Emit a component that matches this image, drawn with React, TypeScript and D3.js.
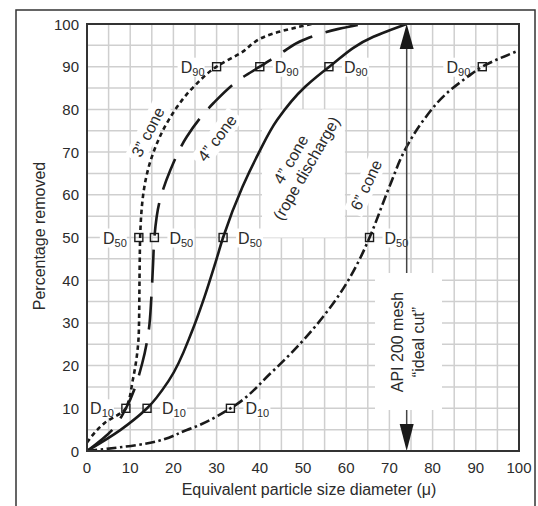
import React from 'react';
import * as d3 from 'd3';

// axis ticks
const xTicks = [0, 10, 20, 30, 40, 50, 60, 70, 80, 90, 100];
const yTicks = [0, 10, 20, 30, 40, 50, 60, 70, 80, 90, 100];

// 3" cone (dotted)
const cone3X = [0, 4, 9, 10.6, 12, 12.2, 12.3, 13.3, 15.4, 18.9, 24.7, 30, 35.4, 43.2, 52];
const cone3Y = [2, 6.5, 10, 16.6, 28, 44, 50, 62, 70, 77.5, 85.3, 90, 93.1, 97.8, 100];

// 4" cone (long dash)
const cone4X = [0, 5.8, 9, 12.8, 14.3, 14.9, 15.3, 15.6, 16.7, 19.3, 23.1, 29.3, 36.3, 40, 44.8, 50.2, 58, 64];
const cone4Y = [0, 4.9, 10, 20.6, 28.3, 36, 44, 50, 58, 65.8, 73.6, 81.5, 87.7, 90, 93.1, 96.3, 98.8, 100];

// 4" cone, rope discharge (solid)
const ropeX = [0, 7.7, 13.9, 19, 24.4, 27.2, 29.7, 31.5, 36, 39.7, 44, 50.5, 56.1, 66.3, 74];
const ropeY = [0, 4.9, 10, 16.6, 28.3, 36.1, 44, 50, 61.9, 69.7, 77.5, 85.3, 90, 97, 100];

// 6" cone (dash-dot)
const cone6X = [0, 11.6, 23.1, 33.2, 42.5, 49.4, 54.7, 59.6, 63.4, 65.4, 70, 73.6, 77.9, 83.3, 88.2, 91.5, 100];
const cone6Y = [0, 1.4, 4.9, 10, 18.2, 25.2, 31.5, 38.5, 45.5, 50, 61.9, 70.5, 77.5, 83.8, 87.7, 90, 93.8];

// D-point markers
const markerNames = ['90', '90', '90', '90', '50', '50', '50', '50', '10', '10', '10'];
const markerX = [30, 40, 56, 91.5, 12, 15.6, 31.5, 65.4, 9, 13.9, 33.2];
const markerY = [90, 90, 90, 90, 50, 50, 50, 50, 10, 10, 10];
const markerSide = ['left', 'right', 'right', 'left', 'left', 'right', 'right', 'right', 'left', 'right', 'right'];

const apiCut = 74;

const W = 538;
const H = 506;
const left = 87, right = 519, top = 24, bottom = 451;
const FONT = "'Liberation Sans', Arial, sans-serif";
const INK = '#1a1a1a';
const TXT = '#2b2b2b';

const x = d3.scaleLinear().domain([0, 100]).range([left, right]);
const y = d3.scaleLinear().domain([0, 100]).range([bottom, top]);

const line = d3.line<[number, number]>()
  .x(d => x(d[0]))
  .y(d => y(d[1]))
  .curve(d3.curveMonotoneY);

const zip = (xs: number[], ys: number[]) => xs.map((v, i) => [v, ys[i]] as [number, number]);

const series = [
  { pts: zip(cone3X, cone3Y), dash: '4.5,3.5' },
  { pts: zip(cone4X, cone4Y), dash: '33,14' },
  { pts: zip(ropeX, ropeY), dash: null },
  { pts: zip(cone6X, cone6Y), dash: '10,3.5,2.5,3.5' },
];

const RotLabel = ({ cx, cy, angle, w }: any) => (
  <g transform={`translate(${cx},${cy}) rotate(${angle})`}>
    <rect x={-w / 2 - 4} y={-10} width={w + 8} height={20} fill="#fff" />
  </g>
);

const RotText = ({ cx, cy, angle, text }: any) => (
  <g transform={`translate(${cx},${cy}) rotate(${angle})`}>
    <text textAnchor="middle" dy="0.35em" fontSize={16} fill={TXT}>{text}</text>
  </g>
);

export default function App() {
  const grid = d3.range(0, 101, 5);
  const ax = x(apiCut);

  const coneLabels = [
    { cx: x(14.1), cy: y(74.7), angle: -63, text: '3\u201D cone', w: 54 },
    { cx: x(30.1), cy: y(73.3), angle: -53, text: '4\u201D cone', w: 54 },
    { cx: x(64.6), cy: y(62.3), angle: -65, text: '6\u201D cone', w: 54 },
  ];

  const rope = { cx: x(48.9), cy: y(67.3), angle: -60 };

  return (
    <svg width={W} height={H} style={{ position: 'absolute', left: 0, top: 0, fontFamily: FONT }}>
      <rect x={0} y={0} width={W} height={H} fill="#fff" />
      {/* outer frame */}
      <rect x={16} y={10} width={519} height={520} fill="none" stroke="#333" strokeWidth={1.5} />

      {/* grid */}
      {grid.map(g => (
        <g key={'g' + g}>
          <line x1={x(g)} x2={x(g)} y1={top} y2={bottom} stroke="#cfcfcf" strokeWidth={1.5} />
          <line x1={left} x2={right} y1={y(g)} y2={y(g)} stroke="#cfcfcf" strokeWidth={1.5} />
        </g>
      ))}

      {/* white backgrounds */}
      {coneLabels.map((l, i) => <RotLabel key={'rb' + i} {...l} />)}
      <rect x={x(40.5)} y={y(80)} width={x(59.7) - x(40.5)} height={y(50) - y(80)} fill="#fff" />
      <rect x={375} y={273} width={67} height={137} fill="#fff" />
      {markerX.map((mx, i) => {
        const px = x(mx), py = y(markerY[i]);
        const lx = markerSide[i] === 'left' ? px - 13 - 26 : px + 13;
        return <rect key={'mb' + i} x={lx} y={py - 9} width={27} height={19} fill="#fff" />;
      })}

      {/* curves */}
      <defs>
        <clipPath id="plotClip">
          <rect x={left} y={top} width={right - left} height={bottom - top} />
        </clipPath>
      </defs>
      <g clipPath="url(#plotClip)">
        {series.map((s, i) => (
          <path key={'s' + i} d={line(s.pts) || ''} fill="none" stroke={INK} strokeWidth={2.6}
            strokeDasharray={s.dash || undefined} />
        ))}
      </g>

      {/* markers */}
      {markerX.map((mx, i) => (
        <rect key={'m' + i} x={x(mx) - 4} y={y(markerY[i]) - 4} width={8} height={8}
          fill="none" stroke={INK} strokeWidth={1.4} />
      ))}
      {markerX.map((mx, i) => {
        const px = x(mx), py = y(markerY[i]);
        const isLeft = markerSide[i] === 'left';
        return (
          <text key={'ml' + i} x={isLeft ? px - 12 : px + 15} y={py + 6}
            textAnchor={isLeft ? 'end' : 'start'} fontSize={16} fill={TXT}>
            D<tspan fontSize={11} dy={3} fill={TXT}>{markerNames[i]}</tspan>
          </text>
        );
      })}

      {/* curve labels */}
      {coneLabels.map((l, i) => <RotText key={'rt' + i} {...l} />)}
      <g transform={`translate(${rope.cx},${rope.cy}) rotate(${rope.angle})`} fontSize={16} fill={TXT}>
        <text textAnchor="middle" y={-3}>4{'\u201D'} cone</text>
        <text textAnchor="middle" y={15}>(rope discharge)</text>
      </g>

      {/* API 200 mesh ideal cut arrow */}
      <line x1={ax} x2={ax} y1={y(100) + 20} y2={273} stroke="#444" strokeWidth={1.5} />
      <line x1={ax} x2={ax} y1={410} y2={y(0) - 20} stroke="#444" strokeWidth={1.5} />
      <path d={`M${ax},${y(100)} L${ax - 7},${y(100) + 25} L${ax + 7},${y(100) + 25} Z`} fill={INK} />
      <path d={`M${ax},${y(0)} L${ax - 7},${y(0) - 27} L${ax + 7},${y(0) - 27} Z`} fill={INK} />
      <g transform={`translate(${ax - 4},342) rotate(-90)`} fontSize={16} fill={TXT} textAnchor="middle">
        <text y={0}>API 200 mesh</text>
        <text y={21}>{'\u201C'}ideal cut{'\u201D'}</text>
      </g>

      {/* plot frame */}
      <rect x={left} y={top} width={right - left} height={bottom - top} fill="none" stroke="#333" strokeWidth={2} />

      {/* ticks */}
      {yTicks.map(t => (
        <text key={'yt' + t} x={79} y={y(t) + 5.5} textAnchor="end" fontSize={15} fill={TXT}>{t}</text>
      ))}
      {xTicks.map(t => (
        <text key={'xt' + t} x={x(t)} y={473} textAnchor="middle" fontSize={15} fill={TXT}>{t}</text>
      ))}

      {/* axis titles */}
      <text transform={`translate(45,236) rotate(-90)`} textAnchor="middle" fontSize={16} fill={TXT}>
        Percentage removed
      </text>
      <text x={309} y={495} textAnchor="middle" fontSize={16} fill={TXT}>
        Equivalent particle size diameter (μ)
      </text>
    </svg>
  );
}
